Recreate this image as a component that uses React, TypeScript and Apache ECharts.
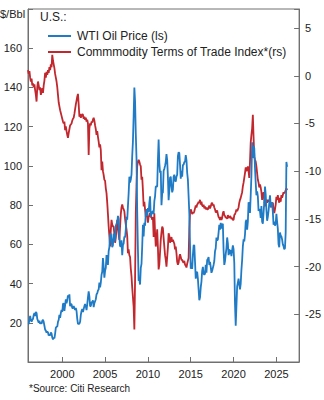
import React, { useEffect, useRef } from "react";
import * as echarts from "echarts";

// Monthly observations starting January 1996
const START_YEAR = 1996;

// WTI oil price, $/bbl (left scale)
const wtiValues = [
  19.5, 19.5, 21.5, 23.5, 21.5, 20.5, 21.5, 22, 24, 25, 23.5, 25.5,
  25, 22, 21, 20, 21, 19.5, 20, 19.5, 21, 21.5, 20.5, 18.5,
  16.5, 16, 15, 15.5, 15, 13.5, 14, 13.5, 15, 14.5, 12.5, 11.5,
  12.5, 12, 14.5, 17.5, 18, 18, 20.5, 21.5, 24, 22.5, 25, 26.5,
  25.5, 29.5, 30, 26, 29, 32, 30, 31.5, 34, 33, 34.5, 28.5,
  29.5, 29.5, 27.5, 27.5, 28.5, 27.5, 26.5, 27.5, 26, 22, 19.5, 19.5,
  19.5, 20.5, 24, 26, 27, 25.5, 27, 28.5, 29.5, 28.5, 26.5, 29.5,
  33, 36, 33.5, 28.5, 28.5, 30.5, 30.5, 31.5, 28, 30, 31, 32,
  34.5, 35, 36.5, 37, 40.5, 38, 40.5, 44.5, 46, 53, 48.5, 43,
  46.5, 48, 54.5, 53, 49.5, 56.5, 58.5, 65, 65.5, 62.5, 58.5, 59.5,
  65.5, 61.5, 62.5, 69.5, 70.5, 71, 74.5, 73, 63.5, 59, 59, 62,
  54.5, 59.5, 60.5, 64, 63.5, 67.5, 74, 72.5, 79.5, 86, 94.5, 91.5,
  93, 95.5, 105, 112.5, 125.5, 140, 133, 116.5, 104, 76.5, 57.5, 41.5,
  42, 39.5, 48, 50, 59, 70, 64, 71, 69.5, 75.5, 78, 74.5,
  78.5, 76.5, 81, 84.5, 74, 75.5, 76.5, 77, 75.5, 82, 84.5, 89.5,
  89.5, 89.5, 103, 113.5, 101.5, 96.5, 97.5, 80, 86, 86.5, 97.5, 98.5,
  100, 102, 106, 103, 94.5, 82.5, 87.5, 94, 94.5, 89.5, 86.5, 88,
  94.5, 95.5, 92.5, 92, 94.5, 95.5, 105, 107, 106.5, 100.5, 93.5, 97.5,
  94.5, 100.5, 100.5, 102, 102, 105.5, 103, 96.5, 93, 84.5, 76, 59.5,
  47.5, 50.5, 47.5, 54.5, 59.5, 59.5, 51, 42.5, 45.5, 46, 42.5, 37,
  31.5, 33, 38, 41, 46.5, 48.5, 45, 44.5, 45, 49.5, 45.5, 52,
  52.5, 53.5, 49.5, 51, 48.5, 45.5, 46.5, 48, 49.5, 51.5, 56.5, 58,
  63.5, 62, 62.5, 66, 70, 67.5, 71, 68, 70, 70.5, 57, 49.5,
  51.5, 55, 58, 63.5, 60.5, 54.5, 57.5, 55, 57, 54, 57, 59.5,
  57.5, 50.5, 29.5, 18.5, 28.5, 38.5, 40.5, 42.5, 39.5, 37, 40, 47,
  52, 59, 62.5, 61.5, 65, 71.5, 72.5, 67.5, 71.5, 81.5, 79, 76,
  85, 95, 112, 104, 110, 109, 99, 91.5, 85, 87, 84.5, 77,
  78, 77, 73.5, 79.5, 71.5, 70.5, 76, 81.5, 89.5, 85.5, 77.5, 72,
  74, 77, 81, 85, 80, 79, 81.5, 76.5, 70, 71.5, 69.5, 70.5,
  75.5, 71.5, 68, 60, 58.5, 66, 64.5, 64, 62.5, 60, 59, 57.5,
  58, 66, 102, 99.5,
];

// Commodity terms of trade index (right scale)
const cttValues = [
  0.6, 0.2, 0.5, -0.2, -0.6, -0.3, -1.0, -0.8, -1.2, -0.9, -1.5, -2.0,
  -2.7, -1.2, -0.6, -1.0, -1.5, -1.2, -2.0, -1.7, -1.3, -1.8, -1.0, -0.5,
  0.3, -0.2, 0.4, 0.1, 0.6, 0.3, 0.9, 0.6, 1.2, 0.9, 2.2, 1.6,
  1.2, 0.8, 0.2, -0.2, -0.6, -1.2, -2.0, -2.8, -3.2, -3.6, -3.9, -4.2,
  -4.5, -4.8, -5.0, -4.8, -5.7, -5.3, -5.8, -6.2, -6.5, -6.0, -5.6, -5.2,
  -5.1, -5.0, -4.7, -4.5, -4.4, -4.0, -3.5, -3.0, -2.6, -2.2, -1.9, -3.0,
  -4.3, -4.0, -4.4, -4.2, -4.0, -4.1, -4.5, -4.3, -4.6, -4.4, -4.8, -4.6,
  -5.0, -8.3, -5.5, -5.0, -5.2, -4.8, -4.9, -4.6, -4.4, -4.7, -5.2, -5.6,
  -6.2, -5.8, -6.4, -6.9, -7.5, -7.2, -7.8, -9.9, -9.0, -10.0, -10.4, -10.9,
  -11.0, -11.8, -12.3, -13.3, -14.5, -15.8, -16.8, -17.9, -16.2, -15.1, -15.6, -15.8,
  -15.8, -16.6, -17.5, -17.0, -16.0, -15.1, -15.8, -16.6, -17.2, -15.8, -14.5, -13.8,
  -13.5, -13.8, -14.0, -14.2, -15.0, -15.6, -16.1, -16.8, -18.6, -18.2, -18.8, -19.0,
  -20.2, -21.0, -22.2, -23.2, -24.2, -26.6, -21.4, -14.4, -11.5, -9.5, -9.0, -8.8,
  -9.0, -9.3, -9.5, -10.9, -10.6, -12.0, -13.7, -13.2, -14.0, -14.8, -14.5, -14.8,
  -15.4, -14.8, -14.6, -14.4, -14.8, -14.8, -15.1, -14.8, -16.9, -14.4, -16.4, -17.9,
  -17.2, -16.1, -18.0, -20.3, -19.8, -18.5, -17.2, -16.4, -15.8, -16.0, -17.0, -17.9,
  -18.8, -19.3, -20.0, -19.0, -18.0, -16.5, -16.8, -17.5, -17.2, -16.9, -17.4, -17.2,
  -17.4, -17.6, -18.2, -17.9, -18.6, -19.5, -19.8, -19.6, -19.0, -18.7, -19.0, -19.3,
  -19.3, -19.5, -19.6, -19.4, -19.8, -19.9, -20.1, -19.7, -19.4, -19.1, -16.0, -14.4,
  -14.0, -14.2, -14.5, -14.3, -14.4, -14.2, -13.9, -13.6, -13.8, -13.5, -13.4, -13.2,
  -13.3, -13.0, -13.5, -13.2, -13.6, -13.7, -13.5, -13.9, -13.7, -14.0, -13.8, -14.0,
  -14.0, -13.8, -13.6, -13.9, -13.7, -13.4, -13.3, -13.6, -13.5, -13.8, -14.0, -14.3,
  -14.3, -14.1, -14.5, -14.8, -14.9, -15.1, -14.8, -15.1, -14.9, -14.4, -14.2, -14.6,
  -14.7, -14.9, -14.8, -15.0, -14.6, -14.8, -14.9, -14.7, -14.8, -15.0, -14.9, -15.1,
  -15.1, -14.6, -14.5, -14.3, -14.0, -14.2, -14.0, -13.8, -13.3, -13.0, -12.8, -12.5,
  -12.2, -11.6, -11.2, -10.7, -10.2, -9.6, -10.0, -9.8, -9.5, -10.0, -10.7, -9.0,
  -7.0, -6.2, -5.5, -4.1, -6.4, -8.5, -8.8, -9.0, -9.5, -10.2, -10.9, -11.2,
  -11.7, -11.4, -11.7, -12.2, -13.0, -12.6, -12.2, -12.8, -13.7, -13.2, -13.0, -13.3,
  -13.0, -13.2, -13.0, -13.3, -13.8, -13.3, -13.6, -13.3, -14.0, -14.4, -14.0, -13.5,
  -12.7, -13.0, -12.5, -13.0, -13.3, -12.8, -13.2, -12.5, -12.8, -12.5, -12.2, -12.3,
  -12.2, -12.0, -11.8, -12.0,
];

const WTI_NAME = "WTI Oil Price (ls)";
const CTT_NAME = "Commmodity Terms of Trade Index*(rs)";
const LEFT_LABELS = [20, 40, 60, 80, 100, 120, 140, 160];
const RIGHT_LABELS = [-25, -20, -15, -10, -5, 0, 5];
const X_LABELS = [2000, 2005, 2010, 2015, 2020, 2025];

const FONT = "'Liberation Sans', Arial, Helvetica, sans-serif";
const AXIS_COLOR = "#707070";
const TEXT_COLOR = "#222";
const BLUE = "#1f7bc5";
const RED = "#c1272d";

const toSeries = (vals: number[]) =>
  vals.map((v, i) => [START_YEAR + i / 12, v]);

export default function App() {
  const ref = useRef<HTMLDivElement>(null);
  useEffect(() => {
    if (!ref.current) return;
    const chart = echarts.init(ref.current, undefined, { renderer: "svg" });
    const axisLine = { show: true, lineStyle: { color: AXIS_COLOR, width: 1 } };
    const axisTick = { show: true, inside: true, length: 5, lineStyle: { color: AXIS_COLOR } };
    chart.setOption({
      animation: false,
      textStyle: { fontFamily: FONT },
      grid: {
        left: 28,
        right: 21,
        top: 9,
        bottom: 38,
        show: true,
        borderColor: AXIS_COLOR,
        borderWidth: 1,
      },
      legend: {
        data: [WTI_NAME, CTT_NAME],
        orient: "vertical",
        left: 43,
        top: 24,
        icon: "rect",
        itemWidth: 23,
        itemHeight: 2,
        itemGap: 2,
        textStyle: { fontFamily: FONT, fontSize: 12, color: TEXT_COLOR, lineHeight: 14, padding: [0, 0, 0, 1] },
      },
      xAxis: {
        type: "value",
        min: 1996,
        max: 2027.65,
        axisLine,
        axisTick,
        splitLine: { show: false },
        axisLabel: {
          fontSize: 11,
          color: TEXT_COLOR,
          margin: 6,
          fontFamily: FONT,
          formatter: (v: number) => (X_LABELS.includes(Math.round(v * 1000) / 1000) ? String(v) : ""),
        },
      },
      yAxis: [
        {
          type: "value",
          position: "left",
          min: 0,
          max: 180,
          interval: 20,
          axisLine,
          axisTick,
          splitLine: { show: false },
          axisLabel: {
            fontSize: 11,
            color: TEXT_COLOR,
            margin: 6,
            fontFamily: FONT,
            formatter: (v: number) => (LEFT_LABELS.includes(v) ? String(v) : ""),
          },
        },
        {
          type: "value",
          position: "right",
          min: -30,
          max: 7,
          interval: 5,
          axisLine,
          axisTick,
          splitLine: { show: false },
          axisLabel: {
            fontSize: 11,
            color: TEXT_COLOR,
            margin: 6,
            fontFamily: FONT,
            formatter: (v: number) => (RIGHT_LABELS.includes(v) ? String(v) : ""),
          },
        },
      ],
      series: [
        {
          name: CTT_NAME,
          type: "line",
          yAxisIndex: 1,
          data: toSeries(cttValues),
          symbol: "none",
          lineStyle: { color: RED, width: 1.8 },
          itemStyle: { color: RED },
        },
        {
          name: WTI_NAME,
          type: "line",
          yAxisIndex: 0,
          data: toSeries(wtiValues),
          symbol: "none",
          lineStyle: { color: BLUE, width: 1.8 },
          itemStyle: { color: BLUE },
        },
      ],
      graphic: [
        {
          type: "text",
          left: 0,
          top: 8,
          style: { text: "$/Bbl", fontSize: 11, fill: TEXT_COLOR, fontFamily: FONT },
        },
        {
          type: "text",
          left: 40,
          top: 11,
          style: { text: "U.S.:", fontSize: 12, fill: TEXT_COLOR, fontFamily: FONT },
        },
        {
          type: "text",
          left: 29,
          top: 383,
          style: { text: "*Source: Citi Research", fontSize: 10, fill: TEXT_COLOR, fontFamily: FONT },
        },
      ],
    });
    return () => chart.dispose();
  }, []);
  return (
    <div
      ref={ref}
      style={{ position: "absolute", left: 0, top: 0, width: 324, height: 400, background: "#fff" }}
    />
  );
}
